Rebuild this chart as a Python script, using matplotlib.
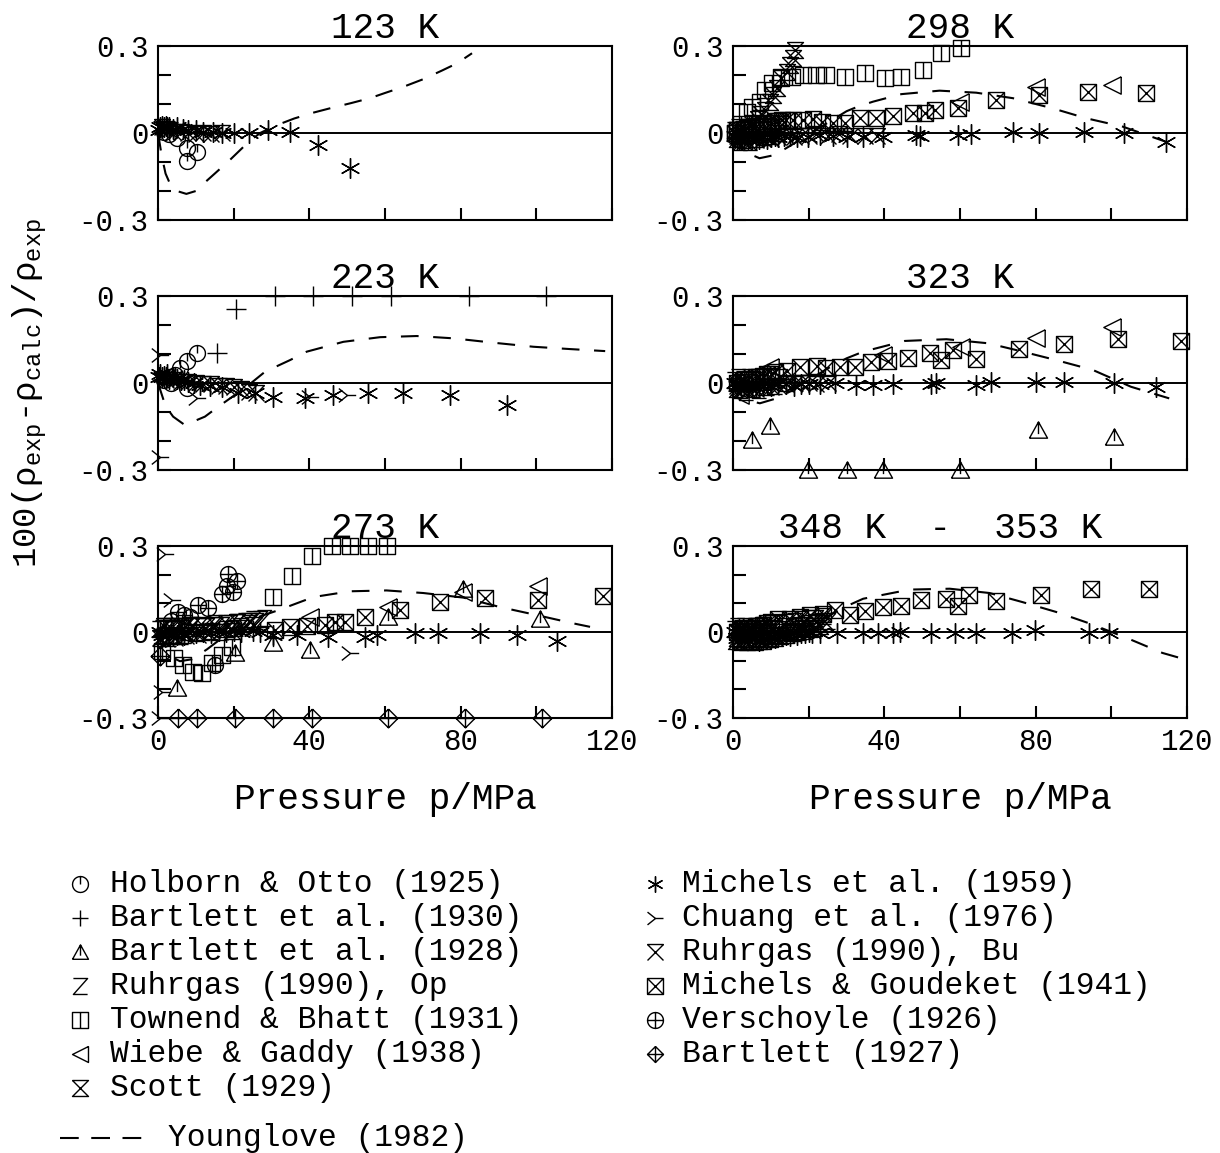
import matplotlib
matplotlib.use("Agg")
import matplotlib.pyplot as plt
import numpy as np
from matplotlib.path import Path

plt.rcParams['font.family'] = 'Liberation Mono'
plt.rcParams['mathtext.fontset'] = 'custom'
plt.rcParams['mathtext.rm'] = 'Liberation Mono'
plt.rcParams['axes.unicode_minus'] = False

# ---------------- data: pressure p (MPa) and deviation (%) ----------------
# 123 K
p123_mic = [0.3, 0.6, 1.0, 1.5, 2.0, 2.5, 3.0, 4.0, 5.0, 6.5, 8.0, 10.0, 12.0, 14.5, 17.0, 20.0, 24.0, 29.0, 35.0, 42.3, 50.8]
d123_mic = [0.01, 0.02, 0.025, 0.02, 0.025, 0.02, 0.02, 0.015, 0.02, 0.015, 0.01, 0.01, 0.005, 0.005, 0.0, 0.0, 0.0, 0.01, 0.005, -0.04, -0.12]
p123_rbu = [1.0, 2.0, 3.0, 4.0, 6.0, 8.0, 10.0, 12.0, 14.0, 17.0]
d123_rbu = [0.02, 0.015, 0.01, 0.005, 0.005, 0.0, -0.005, 0.0, -0.005, 0.0]
p123_hol = [1.5, 3.0, 4.9, 7.6, 10.2, 7.6]
d123_hol = [0.005, -0.005, -0.018, -0.053, -0.064, -0.095]
p123_yg = [0, 1, 2, 3.5, 5, 7.5, 10, 12, 15, 19, 24, 27, 31, 36, 41, 46, 51, 56, 60, 65, 70, 75, 79, 83]
d123_yg = [0, -0.08, -0.14, -0.185, -0.2, -0.21, -0.2, -0.175, -0.14, -0.093, -0.03, 0, 0.025, 0.05, 0.07, 0.087,
           0.103, 0.12, 0.138, 0.16, 0.185, 0.215, 0.24, 0.275]

# 298 K
p298_mic = [0.5, 1, 1.5, 2, 2.5, 3, 4, 5, 6, 7, 8, 9, 10, 11, 12, 13.5, 15, 16.8, 19.9, 23, 26.5, 30, 34.4, 39.7,
            48.5, 49.3, 59.4, 63, 74, 81, 92.9, 103.4, 114.4]
d298_mic = [-0.01, -0.015, -0.02, -0.02, -0.025, -0.02, -0.02, -0.02, -0.025, -0.02, -0.015, -0.02, -0.015, -0.01,
            -0.015, -0.01, -0.01, -0.013, -0.013, -0.007, -0.01, -0.013, -0.013, -0.013, -0.007, -0.01, -0.007,
            -0.003, 0.005, 0.0, 0.005, 0.0, -0.03]
p298_mg = [0.5, 1, 2, 3, 4, 5, 6, 7, 8, 9, 10, 11, 12, 13, 14, 15.9, 18.6, 21.2, 23.4, 26.5, 29.6, 33.5, 37.9, 42.3,
           47.6, 50.7, 53.3, 59.4, 69.6, 81, 93.8, 109.2]
d298_mg = [0.0, 0.01, 0.01, 0.015, 0.02, 0.02, 0.025, 0.03, 0.03, 0.035, 0.035, 0.04, 0.04, 0.045, 0.045, 0.045,
           0.045, 0.047, 0.039, 0.033, 0.036, 0.051, 0.051, 0.059, 0.07, 0.07, 0.079, 0.085, 0.114, 0.131, 0.142, 0.137]
p298_sc = [3, 5, 6.5, 7.5, 8.4, 9.8, 10.6, 11.5, 12.8, 14.2, 15, 15.9, 16.4]
d298_sc = [0.01, 0.03, 0.05, 0.065, 0.079, 0.108, 0.131, 0.154, 0.189, 0.211, 0.234, 0.258, 0.286]
p298_rbu = [1, 2, 3, 4, 6, 8, 10, 12, 14, 16, 18, 20, 22, 25, 28, 31, 35, 38]
d298_rbu = [-0.01, -0.02, -0.03, -0.03, -0.025, -0.02, -0.02, -0.015, -0.01, -0.015, -0.01, -0.01, -0.005, -0.01,
            -0.005, -0.01, -0.01, -0.01]
p298_rop = [0.3, 0.7, 1.2, 1.8, 2.4, 3, 3.7, 4.5, 5.3, 6.2, 7, 8, 9, 10, 11, 12, 13]
d298_rop = [0.01, -0.02, 0.02, -0.03, 0.015, -0.025, 0.02, -0.03, 0.01, -0.02, 0.02, -0.015, 0.025, -0.01, 0.02,
            0.0, 0.03]
p298_tb = [0.5, 1, 2, 3.6, 5, 7.1, 8.4, 10.2, 12.8, 15.5, 18.5, 22, 24.7, 29.6, 34.8, 40.1, 44.5, 50.2, 55, 60.3]
d298_tb = [0.0, 0.01, 0.03, 0.073, 0.09, 0.108, 0.148, 0.171, 0.194, 0.194, 0.2, 0.2, 0.2, 0.194, 0.208, 0.189,
           0.194, 0.217, 0.275, 0.292]
p298_wg = [59.9, 80.1, 100.3]
d298_wg = [0.108, 0.16, 0.166]
p298_yg = [0, 2, 4, 7, 11, 15, 20, 25, 30, 33, 37, 44.5, 54.6, 64.3, 74, 84.5, 93.3, 103, 114.4]
d298_yg = [0, -0.04, -0.07, -0.087, -0.076, -0.045, -0.005, 0.035, 0.075, 0.091, 0.108, 0.134, 0.146, 0.139, 0.12,
           0.085, 0.051, 0.022, -0.03]

# 223 K
p223_b30 = [15.5, 20.6, 30.9, 41, 51.4, 61.6, 82.2, 102.6]
d223_b30 = [0.105, 0.254, 0.3, 0.3, 0.3, 0.3, 0.3, 0.3]
p223_hol = [1.5, 3, 3.5, 4.5, 5.8, 7.6, 10.2, 7.6]
d223_hol = [0.01, 0.02, 0.0, 0.028, 0.051, 0.076, 0.105, -0.018]
p223_mic = [0.3, 0.6, 1, 1.5, 2, 2.5, 3, 4, 5, 6, 7, 8, 9.5, 11.1, 13.7, 16.8, 21.2, 25.6, 30.5, 38.9, 46.3, 55.6,
            64.8, 77.2, 92.2]
d223_mic = [0.02, 0.03, 0.02, 0.025, 0.02, 0.03, 0.015, 0.02, 0.015, 0.01, 0.01, 0.005, 0.0, -0.007, -0.01, -0.013,
            -0.036, -0.036, -0.047, -0.053, -0.041, -0.036, -0.033, -0.041, -0.076]
p223_ch = [0.5, 0.5, 10.2, 40.2, 49.9]
d223_ch = [0.097, -0.254, -0.053, -0.047, -0.041]
p223_rbu = [2, 4, 6, 8, 10, 12, 14, 16, 18, 20, 22, 24, 26]
d223_rbu = [0.01, 0.01, 0.005, 0.005, 0.0, -0.005, -0.005, -0.01, -0.01, -0.015, -0.02, -0.03, -0.035]
p223_yg = [0, 1, 2, 4, 7.1, 12.4, 15.9, 23.4, 28.3, 34.9, 39.3, 49, 58.7, 68.4, 78.1, 88.6, 99.2, 108.9, 118.2]
d223_yg = [0, -0.04, -0.08, -0.116, -0.145, -0.116, -0.082, -0.013, 0.039, 0.079, 0.108, 0.142, 0.158, 0.162, 0.154,
           0.139, 0.125, 0.117, 0.11]

# 323 K
p323_b28 = [4.9, 9.9, 19.9, 30, 39.7, 59.9, 80.6, 100.8]
d323_b28 = [-0.197, -0.148, -0.3, -0.3, -0.3, -0.3, -0.162, -0.185]
p323_wg = [1.8, 9.8, 39.7, 60.3, 80.1, 100.3]
d323_wg = [-0.041, 0.056, 0.097, 0.125, 0.154, 0.194]
p323_mg = [1, 2, 3, 4, 5, 6, 7, 8, 9, 10, 11.1, 14.2, 17.7, 22.1, 24.7, 28.2, 32.2, 36.6, 41, 46.3, 52.2, 55.1,
           58.1, 64.3, 75.5, 87.6, 101.7, 118.4]
d323_mg = [0.0, 0.005, 0.01, 0.01, 0.015, 0.02, 0.02, 0.025, 0.03, 0.03, 0.039, 0.042, 0.054, 0.059, 0.051, 0.054,
           0.056, 0.073, 0.077, 0.087, 0.102, 0.079, 0.114, 0.083, 0.116, 0.134, 0.151, 0.145]
p323_mic = [0.5, 1, 1.5, 2, 3, 4, 5, 6, 7, 8, 9, 10, 12, 14, 16, 18, 20, 23, 26.9, 32.6, 37, 42.3, 52.4, 53.7, 64.3,
            68.3, 80.1, 87.6, 100.8, 111.8]
d323_mic = [0.0, -0.01, -0.005, -0.01, -0.01, -0.015, -0.01, -0.015, -0.01, -0.01, -0.005, -0.01, -0.005, -0.005,
            -0.01, -0.005, -0.005, -0.005, 0.0, -0.007, -0.007, -0.003, -0.003, 0.0, -0.007, 0.005, 0.005, 0.005,
            0.0, -0.013]
p323_rbu = [1, 2, 3, 4, 5, 6, 8, 10, 12, 14, 16, 18, 20, 22, 25]
d323_rbu = [-0.01, -0.02, -0.02, -0.025, -0.02, -0.02, -0.015, -0.015, -0.01, -0.005, -0.005, 0.0, 0.0, -0.005, 0.0]
p323_rop = [0.3, 0.8, 1.3, 2, 2.7, 3.5, 4.3, 5.2, 6, 7, 8, 9, 10, 11, 12.5, 14]
d323_rop = [0.01, -0.02, 0.02, -0.025, 0.015, -0.03, 0.02, -0.02, 0.01, -0.025, 0.02, -0.015, 0.025, -0.01, 0.02, 0.0]
p323_yg = [0, 2, 4, 7.1, 11.5, 15, 20, 25, 30, 34.4, 45.4, 56.4, 67.4, 76, 85.4, 95.1, 105.2, 115.3]
d323_yg = [0, -0.04, -0.06, -0.07, -0.053, -0.03, 0.01, 0.05, 0.085, 0.108, 0.145, 0.151, 0.137, 0.11, 0.079,
           0.045, -0.013, -0.053]

# 273 K
p273_tb = [1, 4.1, 6.7, 9.3, 11.5, 14.2, 16.8, 19.5, 30.5, 35.3, 40.6, 45.9, 50.8, 55.6, 60.4]
d273_tb = [-0.068, -0.091, -0.114, -0.14, -0.142, -0.108, -0.079, -0.051, 0.122, 0.197, 0.266, 0.3, 0.3, 0.3, 0.3]
p273_ve = [3.5, 5.4, 7, 8.5, 10.7, 13.3, 16.8, 18.2, 18.6, 19.9, 20.8, 15.1]
d273_ve = [0.04, 0.07, 0.06, 0.053, 0.093, 0.082, 0.133, 0.162, 0.202, 0.139, 0.179, -0.114]
p273_b27 = [0.5, 5.4, 10.2, 20.4, 30.5, 40.6, 60.9, 81.2, 101.4]
d273_b27 = [-0.085, -0.3, -0.3, -0.3, -0.3, -0.3, -0.3, -0.3, -0.3]
p273_b28 = [4.9, 20.4, 30.5, 40.2, 60.9, 80.7, 101]
d273_b28 = [-0.194, -0.074, -0.039, -0.062, 0.053, 0.151, 0.047]
p273_wg = [40.2, 60.9, 80.7, 100.5]
d273_wg = [0.053, 0.087, 0.139, 0.162]
p273_mg = [30.9, 34.9, 39.3, 44.1, 46.8, 49.4, 54.7, 64, 74.5, 86.4, 100.5, 117.7]
d273_mg = [0.007, 0.016, 0.021, 0.024, 0.036, 0.036, 0.053, 0.078, 0.105, 0.12, 0.113, 0.124]
p273_mic = [0.5, 1, 2, 3, 4, 5, 6, 7, 8, 10, 12, 14, 16, 18, 20, 22, 25, 27, 30.5, 36.7, 45, 54.7, 57.8, 67.9, 74.1,
            85.1, 94.8, 105.4]
d273_mic = [0.0, -0.01, 0.0, -0.01, -0.005, -0.01, -0.005, -0.01, 0.0, -0.005, 0.0, -0.005, 0.005, 0.0, 0.005,
            0.0, 0.005, 0.0, -0.01, -0.01, -0.016, -0.016, -0.01, -0.002, -0.002, -0.002, -0.01, -0.03]
p273_ch = [1.9, 3.6, 1.0, 0.5, 50.8]
d273_ch = [0.271, 0.11, -0.211, -0.3, -0.074]
p273_rop = [0.3, 0.6, 1, 1.3, 1.7, 2, 2.5, 3, 3.5, 4, 4.5, 5, 5.5, 6, 6.5, 7, 7.5, 8, 9, 10, 11, 12, 13, 14, 15, 16,
            17, 18, 19, 20, 21, 22, 23, 24, 25, 26, 27, 28]
d273_rop = [0.01, -0.02, 0.015, -0.015, 0.02, -0.01, 0.015, -0.02, 0.02, -0.015, 0.01, -0.01, 0.02, -0.015, 0.015,
            -0.01, 0.02, 0.0, 0.02, -0.005, 0.025, 0.0, 0.02, 0.005, 0.03, 0.0, 0.025, 0.01, 0.03, 0.015, 0.035,
            0.02, 0.04, 0.03, 0.045, 0.04, 0.045, 0.05]
p273_rbu = [0.5, 1.5, 2.5, 3.5, 4.5, 6, 7.5, 9, 10.5, 12, 13.5, 15, 16.5, 18, 19.5, 21, 22.5, 24, 25.5]
d273_rbu = [-0.02, 0.02, -0.025, 0.015, -0.02, 0.02, -0.015, 0.025, -0.01, 0.02, -0.005, 0.025, 0.0, 0.03, 0.005,
            0.035, 0.015, 0.04, 0.025]
p273_yg = [0, 2, 4, 5.8, 9, 13, 17, 21, 26, 31.8, 41.1, 50.8, 60.4, 70.1, 80.7, 90.4, 100.1, 109.8, 114.2]
d273_yg = [0, -0.05, -0.09, -0.102, -0.095, -0.06, -0.02, 0.015, 0.05, 0.076, 0.122, 0.142, 0.145, 0.136, 0.12,
           0.087, 0.059, 0.03, 0.018]

# 348 K - 353 K
p348_mg = [1, 2, 3, 4, 5, 6, 7, 8, 9, 10, 12, 15, 17.7, 20.3, 23.8, 26.9, 30.9, 34.8, 39.7, 44.5, 49.8, 56.4, 59.4,
           62.5, 69.6, 81.4, 94.6, 110]
d348_mg = [0.0, 0.005, 0.01, 0.01, 0.015, 0.02, 0.02, 0.025, 0.03, 0.035, 0.047, 0.044, 0.053, 0.059, 0.062, 0.076,
           0.061, 0.073, 0.087, 0.09, 0.11, 0.116, 0.09, 0.128, 0.108, 0.128, 0.151, 0.151]
p348_mic = [0.5, 1, 1.5, 2, 2.5, 3, 4, 5, 6, 7, 8, 9, 10, 11, 12, 13, 14, 15, 16, 17, 18, 19, 20, 21, 23, 27.4,
            34.4, 38.3, 42.3, 44.1, 52.4, 58.6, 64.3, 73.8, 79.7, 94.2, 99.5]
d348_mic = [0.0, -0.02, 0.01, -0.025, 0.0, -0.02, -0.015, -0.025, -0.02, -0.03, -0.02, -0.025, -0.02, -0.02, -0.015,
            -0.015, -0.01, -0.015, -0.005, -0.01, -0.005, -0.005, 0.0, -0.005, -0.005, -0.002, -0.005, -0.005,
            -0.005, 0.0, -0.005, -0.005, -0.005, -0.005, 0.007, -0.005, -0.005]
p348_rop = [0.3, 0.7, 1, 1.5, 2, 2.5, 3, 3.5, 4, 4.5, 5, 5.5, 6, 7, 8, 9, 10, 11, 12, 13, 14, 15, 16, 17, 18, 19, 20,
            21, 22, 23, 24, 25]
d348_rop = [0.01, -0.02, 0.02, -0.025, 0.015, -0.03, 0.02, -0.025, 0.01, -0.03, 0.015, -0.025, 0.02, -0.02, 0.025,
            -0.015, 0.03, -0.01, 0.03, 0.0, 0.035, 0.005, 0.04, 0.01, 0.045, 0.015, 0.05, 0.02, 0.05, 0.03, 0.055,
            0.04]
p348_rbu = [1, 2, 3, 4, 5, 6, 7, 8, 9, 10, 12, 14, 16, 18, 20, 22, 24]
d348_rbu = [0.0, 0.01, -0.01, 0.005, -0.01, 0.0, -0.005, 0.01, 0.0, 0.015, 0.01, 0.02, 0.02, 0.025, 0.03, 0.035, 0.04]
p348_sc = [0.8, 1.8, 2.8, 3.8, 4.8, 5.8, 6.8, 7.8, 8.8, 9.8, 11, 12.5, 14, 15.5, 17, 18.5, 20, 21.5, 23]
d348_sc = [-0.03, -0.035, -0.03, -0.035, -0.03, -0.035, -0.03, -0.03, -0.025, -0.025, -0.02, -0.015, -0.01, -0.005,
           0.0, 0.005, 0.01, 0.015, 0.02]
p348_yg = [0, 3, 6, 10, 15, 20, 25, 30, 34.4, 46.7, 57.3, 67.8, 76.6, 85.4, 94.2, 104.3, 113.5, 118]
d348_yg = [0, -0.03, -0.04, -0.03, -0.005, 0.025, 0.055, 0.09, 0.116, 0.148, 0.151, 0.136, 0.104, 0.07, 0.03,
           -0.022, -0.073, -0.09]


# ---------------- marker shapes ----------------
def mk(*lines):
    verts, codes = [], []
    for ln in lines:
        verts += list(ln)
        codes += [Path.MOVETO] + [Path.LINETO] * (len(ln) - 1)
    return Path(verts, codes)


th = np.linspace(0, 2 * np.pi, 25)
ring = list(zip(np.cos(th), np.sin(th)))
sq = [(-1, -1), (1, -1), (1, 1), (-1, 1), (-1, -1)]

M = {
    'hol': mk(ring, [(0, 0), (0, 1)]),
    'b30': '+',
    'b28': mk([(-1, -0.85), (1, -0.85), (0, 0.95), (-1, -0.85)], [(0, 0.95), (0, -0.4)]),
    'rop': mk([(-0.8, 0.9), (0.8, 0.9), (-0.8, -0.9), (0.8, -0.9)]),
    'tb': mk(sq, [(0, -1), (0, 1)]),
    'wg': mk([(1, 1), (1, -1), (-1, 0), (1, 1)]),
    'sc': mk([(-1, 1), (1, 1), (-1, -1), (1, -1), (-1, 1)]),
    'mic': (6, 2, 0),
    'ch': mk([(-1, 0.8), (0, 0), (-1, -0.8)], [(0, 0), (1, 0)]),
    'rbu': mk([(-1, 1), (1, 1)], [(-1, 1), (1, -1)], [(1, 1), (-1, -1)]),
    'mg': mk(sq, [(-1, -1), (1, 1)], [(-1, 1), (1, -1)]),
    've': mk(ring, [(-1, 0), (1, 0)], [(0, -1), (0, 1)]),
    'b27': mk([(0, 1), (1, 0), (0, -1), (-1, 0), (0, 1)], [(-1, 0), (1, 0)], [(0, -1), (0, 1)]),
}
SIZE = {'mic': 14.5, 'b30': 14, 'b28': 13, 'b27': 13.5, 'wg': 12.5, 'ch': 12.5}


def pts(ax, p, d, key):
    ax.plot(p, d, ls='none', marker=M[key], ms=SIZE.get(key, 11.5), mfc='none', mec='k', mew=1.0, clip_on=False)


def yg(ax, p, d):
    ax.plot(p, d, color='k', lw=1.5, dashes=(8.5, 7))


fig = plt.figure(figsize=(12.2, 11.53), dpi=100)
W, H = 1220.0, 1153.0
cols = [158, 733]
rows = [(46, 220), (296, 470), (546, 718)]


def make_ax(c, r, title, bottom, tx=0.5):
    x0 = cols[c]
    t, b = rows[r]
    ax = fig.add_axes([x0 / W, 1 - b / H, 454 / W, (b - t) / H])
    ax.set_xlim(0, 120)
    ax.set_ylim(-0.3, 0.3)
    ax.axhline(0, color='k', lw=1.4)
    for s in ['top', 'bottom', 'left', 'right']:
        ax.spines[s].set_linewidth(1.5)
    ax.set_yticks([-0.3, -0.2, -0.1, 0, 0.1, 0.2, 0.3])
    ax.set_yticklabels(['-0.3', '', '', '0', '', '', '0.3'])
    ax.set_xticks([0, 20, 40, 60, 80, 100, 120])
    if bottom:
        ax.set_xticklabels(['0', '', '40', '', '80', '', '120'])
        ax.set_xlabel('Pressure p/MPa', fontsize=26, labelpad=19)
    else:
        ax.set_xticklabels([])
    ax.tick_params(direction='in', length=9, width=1.5, labelsize=21, pad=7)
    ax.set_title(title, fontsize=26, pad=4, x=tx)
    return ax


a123 = make_ax(0, 0, '123 K', False)
pts(a123, p123_rbu, d123_rbu, 'rbu')
pts(a123, p123_mic, d123_mic, 'mic')
pts(a123, p123_hol, d123_hol, 'hol')
yg(a123, p123_yg, d123_yg)

a298 = make_ax(1, 0, '298 K', False)
pts(a298, p298_rop, d298_rop, 'rop')
pts(a298, p298_tb, d298_tb, 'tb')
pts(a298, p298_sc, d298_sc, 'sc')
pts(a298, p298_rbu, d298_rbu, 'rbu')
pts(a298, p298_mg, d298_mg, 'mg')
pts(a298, p298_mic, d298_mic, 'mic')
pts(a298, p298_wg, d298_wg, 'wg')
yg(a298, p298_yg, d298_yg)

a223 = make_ax(0, 1, '223 K', False)
pts(a223, p223_b30, d223_b30, 'b30')
pts(a223, p223_hol, d223_hol, 'hol')
pts(a223, p223_rbu, d223_rbu, 'rbu')
pts(a223, p223_mic, d223_mic, 'mic')
pts(a223, p223_ch, d223_ch, 'ch')
yg(a223, p223_yg, d223_yg)

a323 = make_ax(1, 1, '323 K', False)
pts(a323, p323_rop, d323_rop, 'rop')
pts(a323, p323_b28, d323_b28, 'b28')
pts(a323, p323_rbu, d323_rbu, 'rbu')
pts(a323, p323_mg, d323_mg, 'mg')
pts(a323, p323_mic, d323_mic, 'mic')
pts(a323, p323_wg, d323_wg, 'wg')
yg(a323, p323_yg, d323_yg)

a273 = make_ax(0, 2, '273 K', True)
pts(a273, p273_rop, d273_rop, 'rop')
pts(a273, p273_rbu, d273_rbu, 'rbu')
pts(a273, p273_mic, d273_mic, 'mic')
pts(a273, p273_tb, d273_tb, 'tb')
pts(a273, p273_ve, d273_ve, 've')
pts(a273, p273_b27, d273_b27, 'b27')
pts(a273, p273_b28, d273_b28, 'b28')
pts(a273, p273_wg, d273_wg, 'wg')
pts(a273, p273_mg, d273_mg, 'mg')
pts(a273, p273_ch, d273_ch, 'ch')
yg(a273, p273_yg, d273_yg)

a348 = make_ax(1, 2, '348 K  -  353 K', True, tx=0.456)
pts(a348, p348_rop, d348_rop, 'rop')
pts(a348, p348_sc, d348_sc, 'sc')
pts(a348, p348_rbu, d348_rbu, 'rbu')
pts(a348, p348_mic, d348_mic, 'mic')
pts(a348, p348_mg, d348_mg, 'mg')
yg(a348, p348_yg, d348_yg)

fig.text(30 / W, 1 - 393 / H,
         r'100(ρ$_{\mathrm{exp}}$-ρ$_{\mathrm{calc}}$)/ρ$_{\mathrm{exp}}$',
         rotation=90, ha='center', va='center', fontsize=24.5)

# ---------------- legend ----------------
leg_left = [('hol', 'Holborn & Otto (1925)'), ('b30', 'Bartlett et al. (1930)'),
            ('b28', 'Bartlett et al. (1928)'), ('rop', 'Ruhrgas (1990), Op'),
            ('tb', 'Townend & Bhatt (1931)'), ('wg', 'Wiebe & Gaddy (1938)'), ('sc', 'Scott (1929)')]
leg_right = [('mic', 'Michels et al. (1959)'), ('ch', 'Chuang et al. (1976)'), ('rbu', 'Ruhrgas (1990), Bu'),
             ('mg', 'Michels & Goudeket (1941)'), ('ve', 'Verschoyle (1926)'), ('b27', 'Bartlett (1927)')]

lax = fig.add_axes([0, 0, 1, 1])
lax.set_xlim(0, W)
lax.set_ylim(H, 0)
lax.axis('off')
for i, (k, t) in enumerate(leg_left):
    y = 884 + 34 * i
    lax.plot([80], [y], ls='none', marker=M[k], ms=11.5, mfc='none', mec='k', mew=1.0)
    lax.text(110, y, t, fontsize=22.5, va='center', ha='left')
for i, (k, t) in enumerate(leg_right):
    y = 884 + 34 * i
    lax.plot([655], [y], ls='none', marker=M[k], ms=11.5, mfc='none', mec='k', mew=1.0)
    lax.text(682, y, t, fontsize=22.5, va='center', ha='left')
lax.plot([60, 150], [1138, 1138], color='k', lw=1.5, dashes=(9, 6))
lax.text(168, 1138, 'Younglove (1982)', fontsize=22.5, va='center', ha='left')

fig.savefig('out.png', dpi=100)
